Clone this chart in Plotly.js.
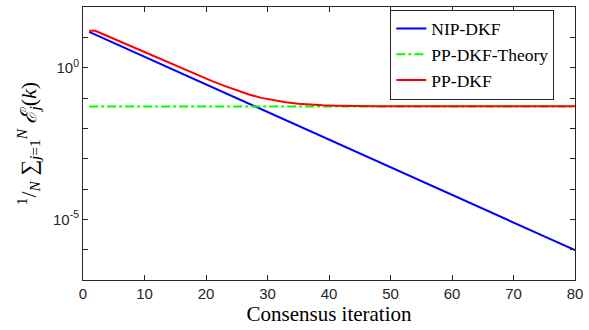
<!DOCTYPE html>
<html>
<head>
<meta charset="utf-8">
<script src="https://cdn.plot.ly/plotly-3.0.1.min.js"></script>
<style>html,body{margin:0;padding:0;background:#fff;}#plot{width:589px;height:330px;}</style>
</head>
<body>
<div id="plot"></div>
<script>
// NIP-DKF (straight decay on log scale)
const kBlue = [1, 5, 10, 15, 20, 25, 30, 35, 40, 45, 50, 55, 60, 65, 70, 75, 80];
const blueVals = [15.1, 6.55, 2.29, 0.80, 0.281, 0.0986, 0.0345, 0.0121, 0.00424, 0.00149,
  5.2e-4, 1.82e-4, 6.4e-5, 2.24e-5, 7.8e-6, 2.75e-6, 9.6e-7];

// PP-DKF-Theory (constant)
const kGreen = [1, 80];
const greenVals = [0.0525, 0.0525];

// PP-DKF
const kRed = [1, 2, 5, 10, 15, 19, 21, 23, 25, 27, 29, 31, 33, 35, 37, 39, 41, 44, 48, 55, 65, 80];
const redVals = [16.5, 16.5, 9.0, 3.25, 1.19, 0.52, 0.36, 0.25, 0.178, 0.131, 0.101, 0.083,
  0.072, 0.065, 0.0605, 0.0575, 0.0558, 0.0545, 0.0536, 0.0532, 0.053, 0.053];

const names = ["NIP-DKF", "PP-DKF-Theory", "PP-DKF"];
const xTicks = [0, 10, 20, 30, 40, 50, 60, 70, 80];
const yTickVals = [1e2, 1e1, 1e0, 1e-1, 1e-2, 1e-3, 1e-4, 1e-5, 1e-6, 1e-7];
const yTickText = ["", "", "10<sup>0</sup>", "", "", "", "", "10<sup>-5</sup>", "", ""];

const traces = [
  {x: kBlue, y: blueVals, name: names[0], mode: "lines", line: {color: "#0000ff", width: 2}},
  {x: kGreen, y: greenVals, name: names[1], mode: "lines", line: {color: "#00ff00", width: 2, dash: "dashdot"}},
  {x: kRed, y: redVals, name: names[2], mode: "lines", line: {color: "#ff0000", width: 2}}
];

const axisCommon = {
  showline: true, linecolor: "#262626", linewidth: 1, mirror: "ticks",
  ticks: "inside", ticklen: 5, tickcolor: "#262626", showgrid: false, zeroline: false,
  tickfont: {family: "Liberation Sans, Arial, sans-serif", size: 15, color: "#262626"}
};

const layout = {
  width: 589, height: 330,
  margin: {l: 83, r: 14, t: 7, b: 50},
  paper_bgcolor: "#fff", plot_bgcolor: "#fff",
  showlegend: true,
  legend: {
    x: 0.958, xanchor: "right", y: 0.99, yanchor: "top",
    bgcolor: "#fff", bordercolor: "#262626", borderwidth: 1,
    font: {family: "Liberation Serif, Times New Roman, serif", size: 17.5, color: "#000"},
    tracegroupgap: 0, itemwidth: 30
  },
  xaxis: Object.assign({}, axisCommon, {
    range: [0, 80], tickvals: xTicks,
    title: {text: "Consensus iteration", standoff: 5,
      font: {family: "Liberation Serif, Times New Roman, serif", size: 21, color: "#000"}}
  }),
  yaxis: Object.assign({}, axisCommon, {
    type: "log", range: [-7, 2], tickvals: yTickVals, ticktext: yTickText,
    title: {text: "<sup>1</sup>/<sub><i>N</i></sub> ∑<sub><i>j</i>=1</sub><sup><i>N</i></sup> <i>ℰ<sub>j</sub></i>(<i>k</i>)", standoff: 10,
      font: {family: "Liberation Serif, Times New Roman, serif", size: 22, color: "#000"}}
  })
};

Plotly.newPlot("plot", traces, layout, {staticPlot: true, displayModeBar: false});
</script>
</body>
</html>
